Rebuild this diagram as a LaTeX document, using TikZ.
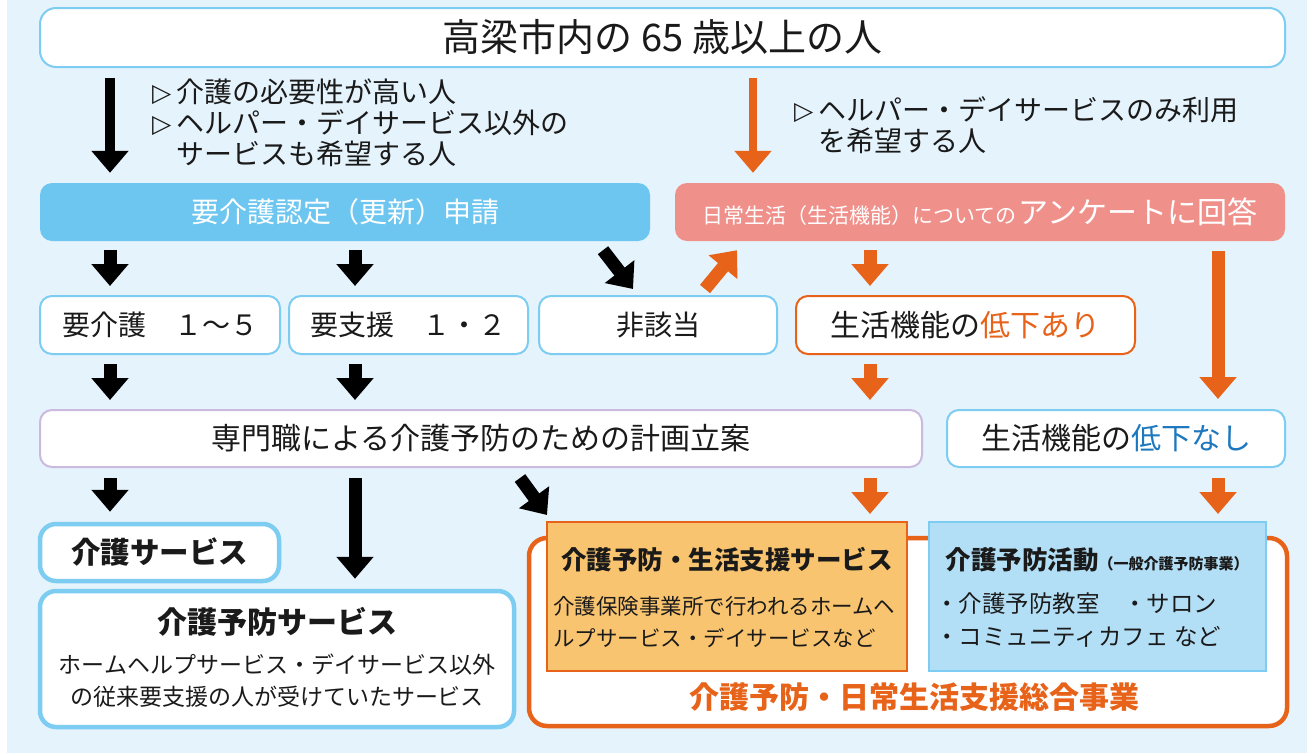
\documentclass[tikz,border=0pt]{standalone}
\usepackage{fontspec}
\setmainfont{Noto Sans CJK JP}
\newfontfamily\symfont{DejaVu Sans}
\usetikzlibrary{arrows.meta}

\definecolor{bgblue}{HTML}{E5F3FC}
\definecolor{skyline}{HTML}{7DCDF2}
\definecolor{skyfill}{HTML}{6DC6F0}
\definecolor{salmon}{HTML}{F0908A}
\definecolor{orng}{HTML}{E8631A}
\definecolor{orngfill}{HTML}{F9C46F}
\definecolor{paleblue}{HTML}{B3DFF6}
\definecolor{lilac}{HTML}{CBBADD}
\definecolor{deepblue}{HTML}{1E78BE}
\definecolor{ink}{HTML}{1A1A1A}

\newcommand{\fs}[1]{\fontsize{#1}{#1}\selectfont}
\newcommand{\tri}{\makebox[24pt][l]{\raisebox{1pt}{\symfont\fontsize{25}{25}\selectfont ▷}}}

\tikzset{
  box/.style={rounded corners=12pt, inner sep=0pt, text=ink, align=center},
  thinbox/.style={box, draw=skyline, line width=2pt, fill=white},
  thickbox/.style={box, draw=skyline, line width=4.5pt, fill=white, rounded corners=16pt},
  blkarr/.style={draw=black, line width=13pt, -{Triangle[width=36pt,length=22pt]}},
  orgarr/.style={draw=orng, line width=13pt, -{Triangle[width=36pt,length=22pt]}},
  gap/.style={shorten <=#1, shorten >=#1},
}

\begin{document}
\begin{tikzpicture}[x=1pt,y=1pt,yscale=-1,xscale=1]
\fill[white] (0,0) rectangle (1307,753);
\fill[bgblue] (7,0) rectangle (1307,753);
\useasboundingbox (0,0) rectangle (1307,753);

\coordinate (c0) at (753,0);
\coordinate (c1) at (110,0);
\coordinate (c2) at (355,0);
\coordinate (c3) at (870,0);
\coordinate (c4) at (1218,0);

% top row
\node[thinbox, rounded corners=16pt, minimum width=1245pt, minimum height=59pt, font=\fs{38}] (top) at (662.5,37.5) {高梁市内の 65 歳以上の人};

\node[anchor=west, align=left, text=ink, inner sep=0pt, font=\fontsize{28}{31}\selectfont] (needtxt) at (152,122.5)
  {\tri 介護の必要性が高い人\\\tri ヘルパー・デイサービス以外の\\\hspace*{24pt}サービスも希望する人};
\node[anchor=west, align=left, text=ink, inner sep=0pt, font=\fontsize{28}{31}\selectfont] (onlytxt) at (794,125)
  {\tri ヘルパー・デイサービスのみ利用\\\hspace*{24pt}を希望する人};

\node[box, fill=skyfill, text=white, minimum width=610pt, minimum height=58pt, font=\fs{28}] (apply) at (345,212) {要介護認定（更新）申請};
\node[box, fill=salmon, text=white, minimum width=610pt, minimum height=58pt] (survey) at (980,212)
  {{\fs{21}日常生活（生活機能）についての}\,{\fs{30}アンケートに回答}};

% second row
\node[thinbox, minimum width=240pt, minimum height=58pt, font=\fs{28}] (care15) at (160,325) {要介護　１～５};
\node[thinbox, minimum width=239pt, minimum height=58pt, font=\fs{28}] (supp12) at (408.5,325) {要支援　１・２};
\node[thinbox, minimum width=238pt, minimum height=58pt, font=\fs{28}] (nonapp) at (658,325) {非該当};
\node[thinbox, draw=orng, minimum width=339pt, minimum height=58pt, font=\fs{30}] (declyes) at (965.5,325) {生活機能の{\color{orng}低下あり}};

% third row
\node[thinbox, draw=lilac, minimum width=882pt, minimum height=57pt, font=\fs{30}] (plan) at (481,438.5) {専門職による介護予防のための計画立案};
\node[thinbox, minimum width=338pt, minimum height=57pt, font=\fs{30}] (declno) at (1116,438.5) {生活機能の{\color{deepblue}低下なし}};

% services
\node[thickbox, minimum width=239pt, minimum height=57pt, font=\bfseries\fs{29.5}] (careserv) at (159.5,552.5) {介護サービス};
\node[thickbox, minimum width=474pt, minimum height=136pt] (prevserv) at (277,659) {};
\node[text=ink, font=\bfseries\fs{30}] (prevttl) at (277,622) {介護予防サービス};
\node[text=ink, align=center, font=\fontsize{23}{32}\selectfont] (prevtxt) at (277,681)
  {ホームヘルプサービス・デイサービス以外\\の従来要支援の人が受けていたサービス};

\node[box, draw=orng, line width=4.5pt, fill=white, rounded corners=18pt, minimum width=758pt, minimum height=188pt] (sogo) at (908,632) {};
\node[text=orng, font=\bfseries\fs{30}] (sogolbl) at (914,697) {介護予防・日常生活支援総合事業};

\node[draw=orng, line width=2pt, fill=orngfill, inner sep=0pt, minimum width=360pt, minimum height=149pt] (obox) at (727,596.5) {};
\node[text=ink, font=\bfseries\fs{25.5}] (ottl) at (727,560) {介護予防・生活支援サービス};
\node[anchor=west, align=left, text=ink, inner sep=0pt, font=\fontsize{21.5}{32}\selectfont] (otxt) at (553,622)
  {介護保険事業所で行われるホームヘ\\ルプサービス・デイサービスなど};

\node[draw=skyline, line width=2pt, fill=paleblue, inner sep=0pt, minimum width=337pt, minimum height=149pt] (bbox) at (1097.5,596.5) {};
\node[text=ink, font=\bfseries\fs{25.5}] (bttl) at (1097,560) {介護予防活動{\fs{15}（一般介護予防事業）}};
\node[anchor=west, align=left, text=ink, inner sep=0pt, font=\fontsize{23.5}{33}\selectfont] (btxt) at (935,620.5)
  {・介護予防教室　・サロン\\・コミュニティカフェ など};

% arrows
\draw[blkarr, line width=10pt, gap=10pt] (top.south -| c1) -- (apply.north -| c1);
\draw[orgarr, line width=8.5pt, gap=10pt] (top.south -| c0) -- (survey.north -| c0);

\draw[blkarr, gap=9pt] (apply.south -| c1) -- (care15.north -| c1);
\draw[blkarr, gap=9pt] (apply.south -| c2) -- (supp12.north -| c2);
\draw[blkarr] ([xshift=258pt,yshift=9pt]apply.south) -- ([xshift=-25pt,yshift=-6pt]nonapp.north);
\draw[orgarr] ([xshift=47pt,yshift=-6pt]nonapp.north) -- ([xshift=-243pt,yshift=9pt]survey.south);
\draw[orgarr, gap=9pt] (survey.south -| c3) -- (declyes.north -| c3);
\draw[orgarr, gap=10pt] (survey.south -| c4) -- (declno.north -| c4);

\draw[blkarr, gap=9pt] (care15.south -| c1) -- (plan.north -| c1);
\draw[blkarr, gap=9pt] (supp12.south -| c2) -- (plan.north -| c2);
\draw[orgarr, gap=9pt] (declyes.south -| c3) -- (plan.north -| c3);

\draw[blkarr, gap=10pt] (plan.south -| c1) -- (careserv.north -| c1);
\draw[blkarr, gap=10pt] (plan.south -| c2) -- (prevserv.north -| c2);
\draw[blkarr] ([xshift=39pt,yshift=10pt]plan.south) -- ([xshift=1pt,yshift=-6pt]obox.north west);
\draw[orgarr, shorten <=10pt, shorten >=7pt] (plan.south -| c3) -- (obox.north -| c3);
\draw[orgarr, shorten <=10pt, shorten >=7pt] (declno.south -| c4) -- (bbox.north -| c4);
\end{tikzpicture}
\end{document}
